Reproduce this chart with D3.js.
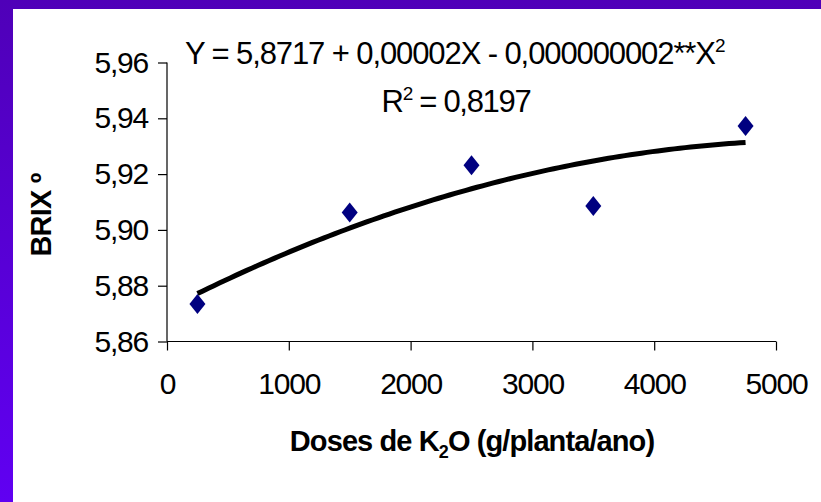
<!DOCTYPE html>
<html>
<head>
<meta charset="utf-8">
<script src="https://cdn.jsdelivr.net/npm/d3@7"></script>
<style>
  body { margin: 0; background: #fff; overflow: hidden; }
  svg { display: block; }
  text { font-family: "Liberation Sans", Arial, sans-serif; fill: #000; }
</style>
</head>
<body>
<div id="chart"></div>
<script>
var w = 821, h = 502;

// data
var doses = [250, 1500, 2500, 3500, 4750];
var brix = [5.8734, 5.9062, 5.9232, 5.9086, 5.9372];
var xTicks = [0, 1000, 2000, 3000, 4000, 5000];
var yTicks = [5.86, 5.88, 5.90, 5.92, 5.94, 5.96];

var ptsC = "#000080";

var svg = d3.select("#chart").append("svg")
  .attr("width", w)
  .attr("height", h);

// purple frame on left and top
var grad = svg.append("defs").append("linearGradient")
  .attr("id", "frame")
  .attr("gradientUnits", "userSpaceOnUse")
  .attr("x1", 0).attr("y1", 0).attr("x2", 0).attr("y2", h);
grad.append("stop").attr("offset", "0%").attr("stop-color", "#4f00b8");
grad.append("stop").attr("offset", "100%").attr("stop-color", "#6000f2");

svg.append("rect").attr("x", 0).attr("y", 0).attr("width", w).attr("height", 9).style("fill", "url(#frame)");
svg.append("rect").attr("x", 0).attr("y", 0).attr("width", 13).attr("height", h).style("fill", "url(#frame)");

var x = d3.scaleLinear().domain([0, 5000]).range([167, 776]);
var y = d3.scaleLinear().domain([5.86, 5.96]).range([341.5, 62.5]);

var comma = d3.formatLocale({decimal: ",", thousands: ".", grouping: [3], currency: ["", ""]});

// axes
var yAxis = d3.axisLeft(y).tickValues(yTicks).tickSize(9).tickPadding(10)
  .tickFormat(comma.format(".2f"));
var gy = svg.append("g").attr("transform", "translate(" + x(0) + ",0)").call(yAxis);

var xAxis = d3.axisBottom(x).tickValues(xTicks).tickSize(9).tickPadding(22)
  .tickFormat(d3.format("d"));
var gx = svg.append("g").attr("transform", "translate(0," + y(5.86) + ")").call(xAxis);

[gx, gy].forEach(function(g) {
  g.select(".domain").style("stroke", "#000").style("stroke-width", 1.2);
  g.selectAll(".tick line").style("stroke", "#000").style("stroke-width", 1.2);
  g.selectAll(".tick text")
    .style("font-family", "'Liberation Sans', Arial, sans-serif")
    .style("font-size", "30px")
    .style("letter-spacing", "-1.2px")
    .style("fill", "#000");
});
gy.select(".domain").attr("d", "M0," + y(5.96) + "V" + y(5.86));
gx.select(".domain").attr("d", "M" + x(0) + ",0H" + x(5000));

// quadratic trend line (least squares, as the spreadsheet does)
function fitQuad(xs, ys) {
  var s = [0, 0, 0, 0, 0], t = [0, 0, 0];
  xs.forEach(function(xv, i) {
    for (var k = 0; k < 5; k++) s[k] += Math.pow(xv, k);
    for (var k = 0; k < 3; k++) t[k] += ys[i] * Math.pow(xv, k);
  });
  var m = [[s[0], s[1], s[2], t[0]], [s[1], s[2], s[3], t[1]], [s[2], s[3], s[4], t[2]]];
  for (var i = 0; i < 3; i++) {
    for (var j = i + 1; j < 3; j++) {
      var f = m[j][i] / m[i][i];
      for (var k = i; k < 4; k++) m[j][k] -= f * m[i][k];
    }
  }
  var c = [0, 0, 0];
  for (var i = 2; i >= 0; i--) {
    var v = m[i][3];
    for (var k = i + 1; k < 3; k++) v -= m[i][k] * c[k];
    c[i] = v / m[i][i];
  }
  return c;
}
var coef = fitQuad(doses, brix);
var trend = d3.range(doses[0], doses[doses.length - 1] + 1, 45).map(function(d) {
  return [d, coef[0] + coef[1] * d + coef[2] * d * d];
});

svg.append("path")
  .datum(trend)
  .attr("d", d3.line().x(function(d) { return x(d[0]); }).y(function(d) { return y(d[1]); }))
  .style("fill", "none")
  .style("stroke", "#000")
  .style("stroke-width", 5);

svg.selectAll(".pt")
  .data(doses)
  .enter()
  .append("path")
  .classed("pt", 1)
  .attr("d", "M0,-10L8,0L0,10L-8,0Z")
  .attr("transform", function(d, i) { return "translate(" + x(d) + "," + y(brix[i]) + ")"; })
  .style("fill", ptsC);

// equation and R2
var eq = svg.append("text")
  .attr("x", 185).attr("y", 64)
  .style("font-size", "31px")
  .style("letter-spacing", "-1.1px");
eq.append("tspan").text("Y = 5,8717 + 0,00002X - 0,000000002**X");
eq.append("tspan").attr("dy", -12).style("font-size", "19px").text("2");

var r2 = svg.append("text")
  .attr("x", 456).attr("y", 112)
  .attr("text-anchor", "middle")
  .style("font-size", "31px")
  .style("letter-spacing", "-1.3px");
r2.append("tspan").text("R");
r2.append("tspan").attr("dy", -12).style("font-size", "19px").text("2");
r2.append("tspan").attr("dy", 12).text(" = 0,8197");

// axis titles
svg.append("text")
  .attr("transform", "translate(51,215) rotate(-90)")
  .attr("text-anchor", "middle")
  .style("font-size", "29px")
  .style("font-weight", "bold")
  .style("letter-spacing", "-0.8px")
  .text("BRIX º");

var xt = svg.append("text")
  .attr("x", 472).attr("y", 451)
  .attr("text-anchor", "middle")
  .style("font-size", "29px")
  .style("font-weight", "bold")
  .style("letter-spacing", "-0.9px");
xt.append("tspan").text("Doses de K");
xt.append("tspan").attr("dy", 7).style("font-size", "18px").text("2");
xt.append("tspan").attr("dy", -7).text("O (g/planta/ano)");
</script>
</body>
</html>
